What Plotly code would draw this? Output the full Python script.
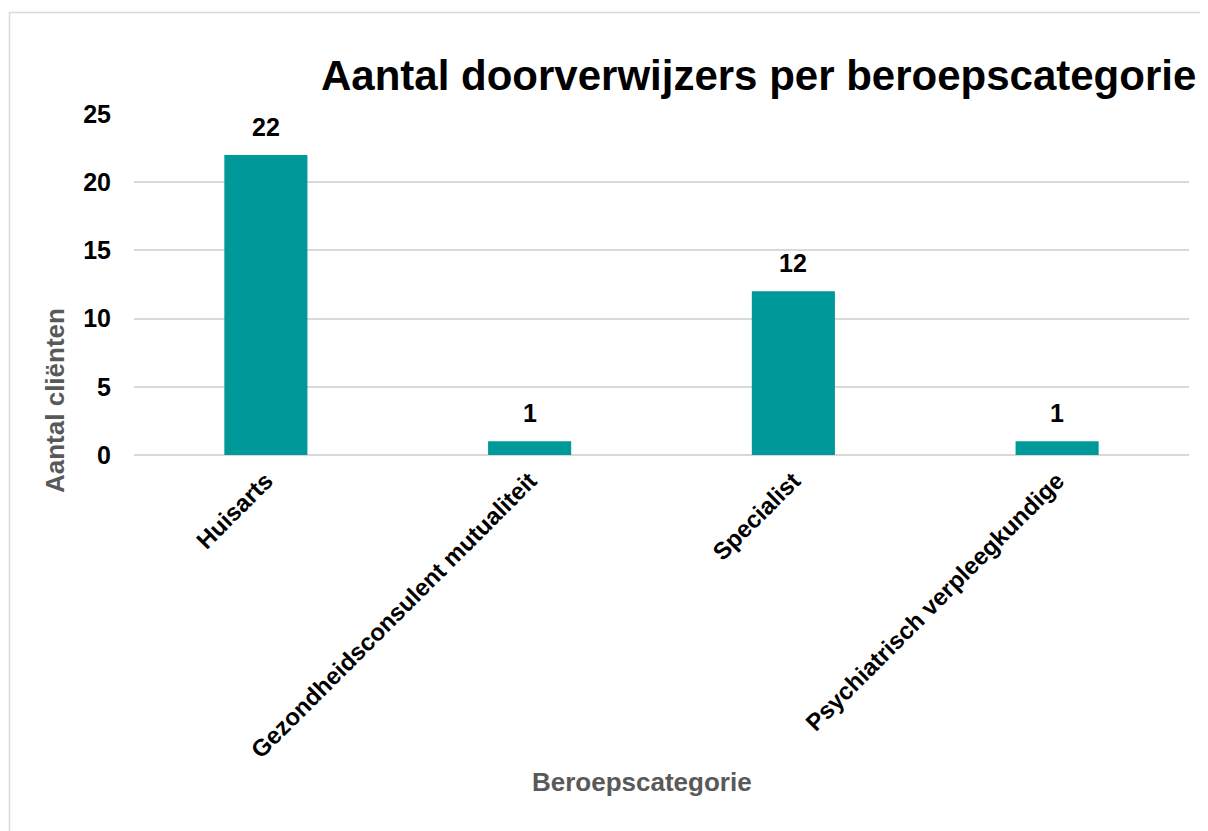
import plotly.graph_objects as go

categories = ["Huisarts", "Gezondheidsconsulent mutualiteit", "Specialist", "Psychiatrisch verpleegkundige"]
values = [22, 1, 12, 1]
y_ticks = [0, 5, 10, 15, 20, 25]

title_text = "Aantal doorverwijzers per beroepscategorie"
x_title = "Beroepscategorie"
y_title = "Aantal cliënten"

FONT = "Liberation Sans, Arial, sans-serif"
TEAL = "#009999"
GRID = "#d9d9d9"
GRAY = "#595959"

OFF = 8  # page body margin
W, H = 1208 - OFF, 831 - OFF
L, T = 134 - OFF, 114 - OFF
R = W - (1189 - OFF)
B = H - (455 - OFF)
pw = W - L - R
ph = H - T - B

def px_x(p):  # p in screenshot coordinates
    return (p - OFF - L) / pw

def px_y(p):
    return (H - B - (p - OFF)) / ph

fig = go.Figure()
fig.add_trace(go.Bar(
    x=categories, y=values,
    marker=dict(color=TEAL, line=dict(width=0)),
    width=0.315,
    hoverinfo="skip",
))

annotations = []
for c, v in zip(categories, values):
    annotations.append(dict(
        x=c, y=v, xref="x", yref="y", text=f"<b>{v}</b>", showarrow=False,
        yanchor="bottom", yshift=12,
        font=dict(family=FONT, size=25, color="#000000"),
    ))

annotations.append(dict(
    x=px_x(319), y=px_y(75), xref="paper", yref="paper",
    text=f"<b>{title_text}</b>", showarrow=False, xanchor="left", yanchor="middle",
    font=dict(family=FONT, size=42, color="#000000"),
))
annotations.append(dict(
    x=px_x(642), y=px_y(782), xref="paper", yref="paper",
    text=f"<b>{x_title}</b>", showarrow=False, xanchor="center", yanchor="middle",
    font=dict(family=FONT, size=26, color=GRAY),
))
annotations.append(dict(
    x=px_x(55), y=px_y(401), xref="paper", yref="paper",
    text=f"<b>{y_title}</b>", showarrow=False, xanchor="center", yanchor="middle",
    textangle=-90,
    font=dict(family=FONT, size=26, color=GRAY),
))

fig.update_layout(
    width=W, height=H,
    margin=dict(l=L, r=R, t=T, b=B, autoexpand=False),
    paper_bgcolor="white", plot_bgcolor="white",
    showlegend=False,
    annotations=annotations,
    shapes=[dict(
        type="rect", xref="paper", yref="paper",
        x0=px_x(9.5), x1=px_x(1260), y0=px_y(12.5), y1=px_y(900),
        line=dict(color=GRID, width=1.5), fillcolor="rgba(0,0,0,0)", layer="below",
    )],
    xaxis=dict(
        tickangle=-45,
        tickfont=dict(family=FONT, size=24, color="#000000"),
        showgrid=False, showline=False, zeroline=False, ticks="",
        ticklabelstandoff=6,
    ),
    yaxis=dict(
        range=[0, 25], tickvals=y_ticks, ticktext=[f"<b>{t}</b>" for t in y_ticks],
        tickfont=dict(family=FONT, size=25, color="#000000"),
        showgrid=True, gridcolor=GRID, gridwidth=1.5,
        zeroline=True, zerolinecolor=GRID, zerolinewidth=1.5,
        showline=False, ticks="", ticklabelstandoff=22,
    ),
)
fig.update_xaxes(ticktext=[f"<b>{c}</b>" for c in categories], tickvals=categories)

fig.write_html("out.html")
